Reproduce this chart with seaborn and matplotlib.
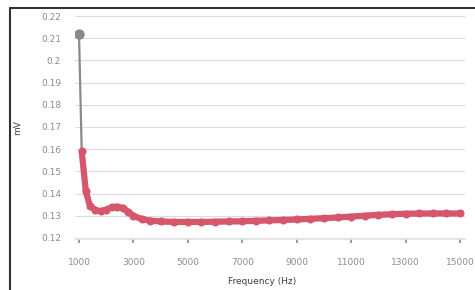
import matplotlib
matplotlib.use("Agg")
import matplotlib.pyplot as plt
import seaborn as sns
import pandas as pd
from matplotlib.lines import Line2D

# measured values
freq_hz = [1000, 1100, 1250, 1400, 1600, 1800, 2000, 2200, 2400, 2600, 2800,
           3000, 3300, 3600, 4000, 4500, 5000, 5500, 6000, 6500, 7000, 7500,
           8000, 8500, 9000, 9500, 10000, 10500, 11000, 11500, 12000, 12500,
           13000, 13500, 14000, 14500, 15000]
volt_mv = [0.212, 0.159, 0.141, 0.1345, 0.1325, 0.132, 0.1328, 0.1338, 0.1341, 0.1335, 0.1318,
           0.1300, 0.1285, 0.1278, 0.1274, 0.1272, 0.1272, 0.1272, 0.1273, 0.1274, 0.1275, 0.1277,
           0.1279, 0.1281, 0.1283, 0.1286, 0.1289, 0.1292, 0.1296, 0.1300, 0.1304, 0.1307,
           0.1309, 0.1310, 0.1310, 0.1310, 0.1310]

x_ticks = [1000, 3000, 5000, 7000, 9000, 11000, 13000, 15000]
y_ticks = [0.12, 0.13, 0.14, 0.15, 0.16, 0.17, 0.18, 0.19, 0.2, 0.21, 0.22]
y_labels = ["0.12", "0.13", "0.14", "0.15", "0.16", "0.17", "0.18", "0.19", "0.2", "0.21", "0.22"]

df = pd.DataFrame({"freq": freq_hz, "mv": volt_mv})

sns.set_theme(style="white")
plt.rcParams["font.family"] = ["DejaVu Sans"]

W, H = 475, 290
fig = plt.figure(figsize=(4.75, 2.9), dpi=100)
ax = fig.add_axes([75 / W, (H - 239) / H, 390 / W, 224 / H])

red = "#d6566c"
gray = "#8a8a8a"
# first segment drawn in gray, rest in red
sns.lineplot(data=df.iloc[:2], x="freq", y="mv", ax=ax, color=gray, lw=1.6)
sns.lineplot(data=df.iloc[1:], x="freq", y="mv", ax=ax, color=red, lw=4.5,
             marker="o", markersize=5, markeredgecolor=red, markeredgewidth=0.8)
ax.plot(df["freq"].iloc[:1], df["mv"].iloc[:1], "o", color=gray, ms=6.5)

ax.set_xlim(853, 15184)
ax.set_ylim(0.1195, 0.2205)
ax.set_xticks(x_ticks)
ax.set_xticklabels([str(t) for t in x_ticks])
ax.set_yticks(y_ticks)
ax.set_yticklabels(y_labels)
ax.tick_params(axis="x", labelsize=6.5, colors="#8c8c8c", pad=11, length=3, direction="out", bottom=True)
ax.tick_params(axis="y", labelsize=6.5, colors="#8c8c8c", pad=10, length=0)
ax.yaxis.grid(True, color="#dcdcdc", lw=0.8)
ax.xaxis.grid(False)
for s in ["top", "right", "left"]:
    ax.spines[s].set_visible(False)
ax.spines["bottom"].set_color("#e2e2e2")

ax.set_xlabel("Frequency (Hz)", fontsize=6.5, color="#404040")
ax.xaxis.set_label_coords((262 - 75) / 390, -(277 - 239) / 224)
ax.set_ylabel("mV", fontsize=6.5, color="#404040")
ax.yaxis.set_label_coords(-(75 - 22) / 390, (239 - 128) / 224)

# outer chart frame
fig.add_artist(Line2D([10 / W, 1], [1 - 8 / H, 1 - 8 / H], color="#333333", lw=1.5))
fig.add_artist(Line2D([10 / W, 10 / W], [0, 1 - 8 / H], color="#333333", lw=1.5))

fig.savefig("out.png", dpi=100)
